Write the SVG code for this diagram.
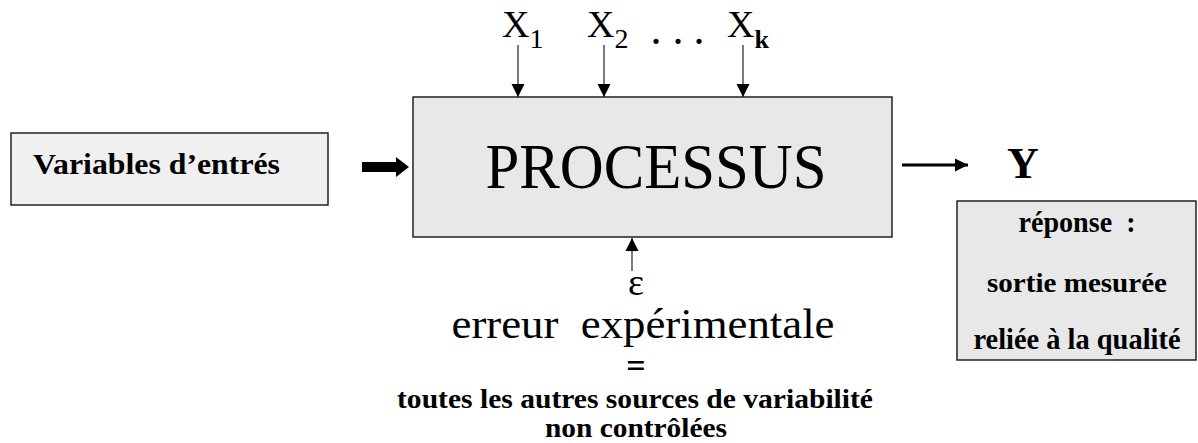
<svg xmlns="http://www.w3.org/2000/svg" width="1198" height="443" viewBox="0 0 1198 443">
<defs>
<style>
.box{stroke:#222;stroke-width:1.5}
.t{font-family:"Liberation Serif","Times New Roman",serif;fill:#000}
.b{font-weight:bold}
.thin{stroke:#333;stroke-width:1.3;fill:none}
</style>
<marker id="ah2" viewBox="0 0 10 10" refX="10" refY="5" markerWidth="13" markerHeight="14" markerUnits="userSpaceOnUse" orient="auto">
<path d="M0,0 L10,5 L0,10 z" fill="#000"/>
</marker>
</defs>
<rect width="1198" height="443" fill="#fff"/>
<g id="inputs">
<rect class="box" x="11" y="133" width="317" height="72" fill="#f0f0f0"/>
<text class="t b" x="33" y="174" font-size="30" textLength="247" lengthAdjust="spacingAndGlyphs">Variables d’entrés</text>
</g>
<g id="processus">
<rect class="box" x="413" y="97" width="479" height="140" fill="#e8e8e8"/>
<text class="t" x="656" y="188" font-size="64" text-anchor="middle" textLength="341" lengthAdjust="spacingAndGlyphs">PROCESSUS</text>
</g>
<g id="factors">
<text class="t" x="502" y="37" font-size="38">X<tspan font-size="28" dy="11">1</tspan></text>
<text class="t" x="587" y="37" font-size="38">X<tspan font-size="28" dy="11">2</tspan></text>
<text class="t b" x="652 674 695" y="44" font-size="32">...</text>
<text class="t" x="727" y="37" font-size="38">X<tspan font-size="26" font-weight="bold" dy="11">k</tspan></text>
</g>
<g id="output">
<text class="t b" x="1007" y="178" font-size="44">Y</text>
<rect class="box" x="957" y="201" width="239" height="159" fill="#e8e8e8"/>
<text class="t b" x="1077" y="232" font-size="29" text-anchor="middle" textLength="117" lengthAdjust="spacingAndGlyphs">réponse&#160; :</text>
<text class="t b" x="1077" y="292" font-size="28" text-anchor="middle" textLength="180" lengthAdjust="spacingAndGlyphs">sortie mesurée</text>
<text class="t b" x="1077" y="349" font-size="29" text-anchor="middle" textLength="207" lengthAdjust="spacingAndGlyphs">reliée à la qualité</text>
</g>
<g id="error">
<text class="t" x="636" y="295" font-size="38" text-anchor="middle">ε</text>
<text class="t" x="643" y="338" font-size="42" text-anchor="middle" textLength="383" lengthAdjust="spacingAndGlyphs">erreur&#160; expérimentale</text>
<text class="t b" x="636" y="377" font-size="34" text-anchor="middle">=</text>
<text class="t b" x="635" y="408" font-size="28" text-anchor="middle" textLength="476" lengthAdjust="spacingAndGlyphs">toutes les autres sources de variabilité</text>
<text class="t b" x="636" y="437" font-size="28" text-anchor="middle" textLength="182" lengthAdjust="spacingAndGlyphs">non contrôlées</text>
</g>
<g id="connectors">
<path d="M362,167 H397" stroke="#000" stroke-width="10"/>
<path d="M396,157 L409,167 L396,177 z" fill="#000"/>
<line class="thin" x1="518" y1="45" x2="518" y2="97" marker-end="url(#ah2)"/>
<line class="thin" x1="604" y1="45" x2="604" y2="97" marker-end="url(#ah2)"/>
<line class="thin" x1="743" y1="45" x2="743" y2="97" marker-end="url(#ah2)"/>
<line class="thin" x1="632" y1="271" x2="632" y2="238" marker-end="url(#ah2)"/>
<line x1="902" y1="165" x2="968" y2="165" stroke="#000" stroke-width="3" marker-end="url(#ah2)"/>
</g>
</svg>
